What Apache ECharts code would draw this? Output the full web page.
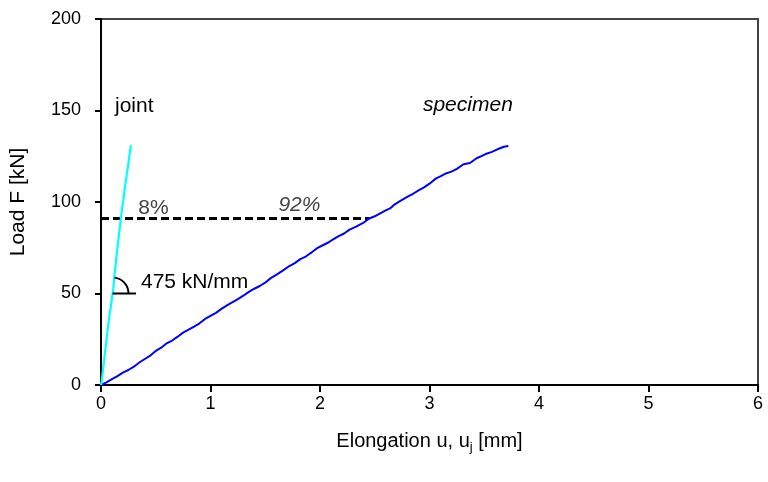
<!DOCTYPE html>
<html>
<head>
<meta charset="utf-8">
<script src="https://cdn.jsdelivr.net/npm/echarts@6/dist/echarts.min.js"></script>
<style>
  html, body { margin: 0; padding: 0; background: #fff; }
  #chart { width: 768px; height: 482px; }
</style>
</head>
<body>
<div id="chart"></div>
<script>
// Load–elongation records: [elongation u (mm), load F (kN)]
const specimenCurve = [
  [0.00, 0.0], [0.05, 1.4], [0.10, 3.2], [0.15, 4.9], [0.20, 6.8], [0.25, 8.2],
  [0.30, 10.0], [0.35, 12.3], [0.40, 14.2], [0.45, 16.1], [0.50, 18.6], [0.55, 20.4],
  [0.60, 22.8], [0.65, 24.3], [0.70, 26.4], [0.75, 28.6], [0.80, 30.2], [0.85, 31.9],
  [0.90, 33.7], [0.95, 36.1], [1.00, 37.8], [1.05, 39.4], [1.10, 41.6], [1.15, 43.5],
  [1.21, 45.5], [1.25, 46.9], [1.30, 48.8], [1.35, 50.9], [1.40, 52.6], [1.45, 54.1],
  [1.51, 56.4], [1.55, 58.4], [1.60, 60.2], [1.66, 62.5], [1.72, 65.0], [1.77, 66.6],
  [1.82, 68.8], [1.87, 70.2], [1.92, 72.3], [1.97, 74.6], [2.03, 76.5], [2.08, 78.0],
  [2.12, 79.6], [2.17, 81.4], [2.22, 82.8], [2.27, 84.9], [2.33, 86.5], [2.39, 88.4],
  [2.45, 91.0], [2.50, 92.2], [2.55, 93.8], [2.60, 95.4], [2.64, 96.5], [2.68, 98.6],
  [2.73, 100.5], [2.80, 102.9], [2.85, 104.5], [2.90, 106.4], [2.95, 108.0],
  [3.00, 110.0], [3.06, 112.9], [3.10, 114.0], [3.15, 115.6], [3.20, 116.6],
  [3.25, 118.1], [3.31, 120.6], [3.37, 121.3], [3.43, 123.9], [3.48, 125.2],
  [3.52, 126.4], [3.57, 127.4], [3.62, 128.8], [3.68, 130.2], [3.72, 130.6]
];
const jointCurve = [
  [0.000, 0.0], [0.006, 2.0], [0.018, 8.5], [0.028, 13.0], [0.036, 17.5],
  [0.046, 22.5], [0.056, 28.0], [0.067, 33.5], [0.078, 38.5], [0.090, 43.0],
  [0.100, 47.5], [0.112, 52.5], [0.120, 58.0], [0.128, 62.5], [0.140, 69.5],
  [0.155, 77.5], [0.168, 84.0], [0.180, 90.5], [0.192, 96.0], [0.204, 101.0],
  [0.216, 107.0], [0.228, 112.0], [0.240, 117.0], [0.250, 121.0], [0.262, 126.5],
  [0.274, 131.0]
];
// Share of elongation at the reference load level
const refLoad = 91.0;
const refLine = [[0, refLoad], [2.45, refLoad]];
const jointStiffness = 475; // kN/mm

const xTicks = [0, 1, 2, 3, 4, 5, 6];
const yTicks = [0, 50, 100, 150, 200];

const FONT = "'Liberation Sans Narrow', 'Arial Narrow', 'Liberation Sans', Arial, sans-serif";

const chart = echarts.init(document.getElementById('chart'));

// Text annotations anchored in data coordinates
const notes = [
  { text: 'joint', at: [0.128, 152.5], style: 'normal', color: '#000' },
  { text: 'specimen', at: [2.94, 153.0], style: 'italic', color: '#000' },
  { text: '8%', at: [0.34, 96.7], style: 'normal', color: '#444' },
  { text: '92%', at: [1.62, 98.4], style: 'italic', color: '#444' },
  { text: jointStiffness + ' kN/mm', at: [0.365, 56.3], style: 'normal', color: '#000' }
];

chart.setOption({
  animation: false,
  grid: {
    left: 101, right: 10, top: 19, bottom: 97,
    show: true, borderColor: '#444', borderWidth: 2, backgroundColor: '#fff'
  },
  xAxis: {
    type: 'value', min: xTicks[0], max: xTicks[xTicks.length - 1], interval: 1,
    name: 'Elongation u, u{sub|j} [mm]',
    nameLocation: 'middle', nameGap: 44,
    nameTextStyle: {
      fontFamily: FONT, fontSize: 20, color: '#000',
      rich: { sub: { fontFamily: FONT, fontSize: 13, verticalAlign: 'bottom', padding: [12, 0, 0, 0] } }
    },
    axisLine: { lineStyle: { color: '#000', width: 2 } },
    axisTick: { length: 7, lineStyle: { color: '#000', width: 2 } },
    axisLabel: { fontFamily: FONT, fontSize: 18, color: '#000', margin: 10 },
    splitLine: { show: false }
  },
  yAxis: {
    type: 'value', min: yTicks[0], max: yTicks[yTicks.length - 1], interval: 50,
    name: 'Load F [kN]',
    nameLocation: 'middle', nameGap: 72,
    nameTextStyle: { fontFamily: FONT, fontSize: 21, color: '#000' },
    axisLine: { lineStyle: { color: '#000', width: 2 } },
    axisTick: { length: 6, lineStyle: { color: '#000', width: 2 } },
    axisLabel: { fontFamily: FONT, fontSize: 18, color: '#000', margin: 20 },
    splitLine: { show: false }
  },
  series: [
    {
      name: 'reference load', type: 'line', data: refLine, showSymbol: false, z: 3,
      lineStyle: { color: '#000', width: 3, type: [8, 4] }
    },
    {
      name: 'specimen', type: 'line', data: specimenCurve, showSymbol: false, z: 4,
      lineStyle: { color: '#0000ff', width: 2 }
    },
    {
      name: 'joint', type: 'line', data: jointCurve, showSymbol: false, z: 4,
      lineStyle: { color: '#00ffff', width: 2.2 }
    },
    {
      // stiffness angle marker: baseline and arc at F = 50 kN
      name: 'angle', type: 'custom', z: 5, silent: true,
      data: [[0.105, 50]],
      renderItem: function (params, api) {
        const c = api.coord([api.value(0), api.value(1)]);
        const end = api.coord([0.32, 50]);
        const r = 16;
        return {
          type: 'group',
          children: [
            { type: 'line', shape: { x1: c[0], y1: c[1], x2: end[0], y2: end[1] },
              style: { stroke: '#000', lineWidth: 2 } },
            { type: 'arc', shape: { cx: c[0], cy: c[1], r: r, startAngle: -Math.PI * 0.46, endAngle: 0 },
              style: { stroke: '#000', lineWidth: 2, fill: null } }
          ]
        };
      }
    },
    {
      name: 'notes', type: 'custom', z: 6, silent: true,
      data: notes.map(n => n.at),
      renderItem: function (params, api) {
        const n = notes[params.dataIndex];
        const p = api.coord([api.value(0), api.value(1)]);
        return {
          type: 'text',
          style: {
            x: p[0], y: p[1], text: n.text, fill: n.color,
            font: n.style + ' 21px ' + FONT,
            textAlign: 'left', textVerticalAlign: 'middle'
          }
        };
      }
    }
  ]
});
</script>
</body>
</html>
